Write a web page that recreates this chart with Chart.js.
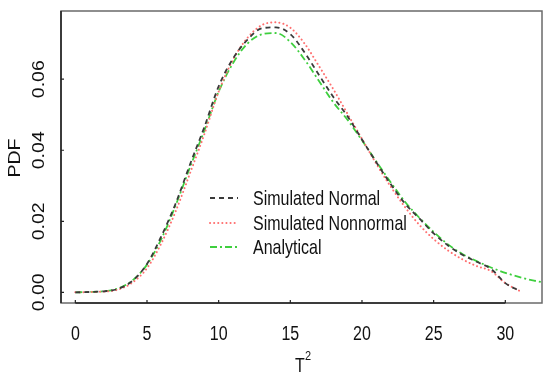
<!DOCTYPE html>
<html>
<head>
<meta charset="utf-8">
<script src="https://cdn.jsdelivr.net/npm/chart.js@4.4.1/dist/chart.umd.min.js"></script>
<style>
html,body{margin:0;padding:0;background:#fff;}
#wrap{width:550px;height:384px;}
</style>
</head>
<body>
<div id="wrap"><canvas id="c" width="550" height="384"></canvas></div>
<script>
// ---- data ----
const xSim = [0,1,2,3,4,5,6,7,8,9,10,11,12,13,14,15,16,17,18,19,20,21,22,23,24,25,26,27,28,29,30,31];
const simNormal = [0,0.0001,0.0003,0.0010,0.0033,0.0080,0.0158,0.0250,0.0360,0.0465,0.0580,0.0658,0.0711,0.0743,0.0746,0.0727,0.0675,0.0612,0.0550,0.0495,0.0430,0.0366,0.0305,0.0250,0.0208,0.0166,0.0132,0.0106,0.0086,0.0066,0.0026,0.0004];
const simNonnormal = [0,0.0001,0.0002,0.0008,0.0028,0.0068,0.0138,0.0228,0.0335,0.0445,0.0565,0.0655,0.0716,0.0752,0.0760,0.0745,0.0700,0.0637,0.0572,0.0502,0.0432,0.0362,0.0298,0.0240,0.0190,0.0150,0.0118,0.0093,0.0074,0.0060,0.0026,0.0004];
const xAna = [0,1,2,3,4,5,6,7,8,9,10,11,12,13,14,15,16,17,18,19,20,21,22,23,24,25,26,27,28,29,30,31,32,33];
const analytical = [0,0.0001,0.0003,0.0011,0.0034,0.0078,0.0150,0.0245,0.0352,0.0455,0.0565,0.0645,0.0700,0.0726,0.0730,0.0705,0.0655,0.0595,0.0535,0.0485,0.0428,0.0368,0.0310,0.0255,0.0210,0.0170,0.0135,0.0108,0.0088,0.0070,0.0055,0.0043,0.0033,0.0026];
const seriesNames = ["Simulated Normal","Simulated Nonnormal","Analytical"];
const xTicks = [0,5,10,15,20,25,30];
const yTicks = [0.00,0.02,0.04,0.06];
const yTickLabels = ["0.00","0.02","0.04","0.06"];
const xTitle = "T";
const xTitleSup = "2";
const yTitle = "PDF";

const toPts = (xs, ys) => xs.map((x,i)=>({x:x,y:ys[i]}));
const STRETCH = 1.22;
const FONT = '16px "Liberation Sans", Arial, sans-serif';

function txt(ctx, s, x, y, align, font) {
  ctx.save();
  ctx.translate(x, y);
  ctx.scale(1, STRETCH);
  ctx.font = font || FONT;
  ctx.textAlign = align || 'center';
  ctx.textBaseline = 'alphabetic';
  ctx.fillText(s, 0, 0);
  ctx.restore();
}
function txtRot(ctx, s, x, y) {
  ctx.save();
  ctx.translate(x, y);
  ctx.rotate(-Math.PI/2);
  ctx.scale(STRETCH, 1);
  ctx.font = FONT;
  ctx.textAlign = 'center';
  ctx.textBaseline = 'alphabetic';
  ctx.fillText(s, 0, 0);
  ctx.restore();
}

const decor = {
  id: 'decor',
  afterDraw(chart) {
    const ctx = chart.ctx;
    const a = chart.chartArea;
    const xs = chart.scales.x, ys = chart.scales.y;
    ctx.save();
    // box
    ctx.strokeStyle = '#6a6a6a';
    ctx.lineWidth = 1.5;
    ctx.strokeRect(a.left, a.top, a.right - a.left, a.bottom - a.top);
    // axis lines
    ctx.strokeStyle = '#222';
    ctx.lineWidth = 1.5;
    ctx.beginPath();
    ctx.moveTo(xs.getPixelForValue(xTicks[0]), a.bottom);
    ctx.lineTo(xs.getPixelForValue(xTicks[xTicks.length-1]), a.bottom);
    ctx.moveTo(a.left, a.top);
    ctx.lineTo(a.left, a.bottom);
    ctx.stroke();
    // inward ticks
    ctx.lineWidth = 1.2;
    ctx.beginPath();
    xTicks.forEach(t => { const p = xs.getPixelForValue(t); ctx.moveTo(p, a.bottom); ctx.lineTo(p, a.bottom - 3); });
    yTicks.forEach(t => { const p = ys.getPixelForValue(t); ctx.moveTo(a.left, p); ctx.lineTo(a.left + 3, p); });
    ctx.stroke();
    // tick labels
    ctx.fillStyle = '#111';
    xTicks.forEach(t => txt(ctx, String(t), xs.getPixelForValue(t), 339.5, 'center'));
    yTicks.forEach((t,i) => txtRot(ctx, yTickLabels[i], 44, ys.getPixelForValue(t)));
    // titles
    txt(ctx, xTitle, 300, 372, 'center');
    txt(ctx, xTitleSup, 305, 360, 'left', '11px "Liberation Sans", Arial, sans-serif');
    txtRot(ctx, yTitle, 20, 158);
    // legend
    const rows = [198, 223, 247];
    chart.data.datasets.forEach((ds, i) => {
      ctx.save();
      ctx.strokeStyle = ds.borderColor;
      ctx.lineWidth = ds.borderWidth;
      ctx.lineCap = ds.borderCapStyle || 'butt';
      ctx.setLineDash(ds.borderDash || []);
      ctx.beginPath();
      ctx.moveTo(210, rows[i]);
      ctx.lineTo(238, rows[i]);
      ctx.stroke();
      ctx.restore();
      ctx.fillStyle = '#111';
      txt(ctx, ds.label, 253, rows[i] + 7, 'left');
    });
    ctx.restore();
  }
};

new Chart(document.getElementById('c'), {
  type: 'line',
  data: {
    datasets: [
      { label: seriesNames[0], data: toPts(xSim, simNormal), borderColor: '#3a3a3a', borderWidth: 1.8, borderDash: [5,4], pointRadius: 0, fill: false, cubicInterpolationMode: 'monotone' },
      { label: seriesNames[1], data: toPts(xSim, simNonnormal), borderColor: '#ff6f6f', borderWidth: 2, borderDash: [0.1,4], borderCapStyle: 'round', pointRadius: 0, fill: false, cubicInterpolationMode: 'monotone' },
      { label: seriesNames[2], data: toPts(xAna, analytical), borderColor: '#3ecf3e', borderWidth: 1.8, borderDash: [7,3,2,3], pointRadius: 0, fill: false, cubicInterpolationMode: 'monotone' }
    ]
  },
  options: {
    responsive: false,
    animation: false,
    devicePixelRatio: 1,
    layout: { padding: { left: 0, right: 8, top: 11, bottom: 0 } },
    plugins: { legend: { display: false }, tooltip: { enabled: false } },
    scales: {
      x: {
        type: 'linear', min: -1.0, max: 32.56,
        grid: { display: false, drawTicks: false },
        border: { display: false },
        ticks: { display: false },
        afterFit: s => { s.height = 81; }
      },
      y: {
        type: 'linear', min: -0.003, max: 0.0792,
        grid: { display: false, drawTicks: false },
        border: { display: false },
        ticks: { display: false },
        afterFit: s => { s.width = 61; }
      }
    }
  },
  plugins: [decor]
});
</script>
</body>
</html>
